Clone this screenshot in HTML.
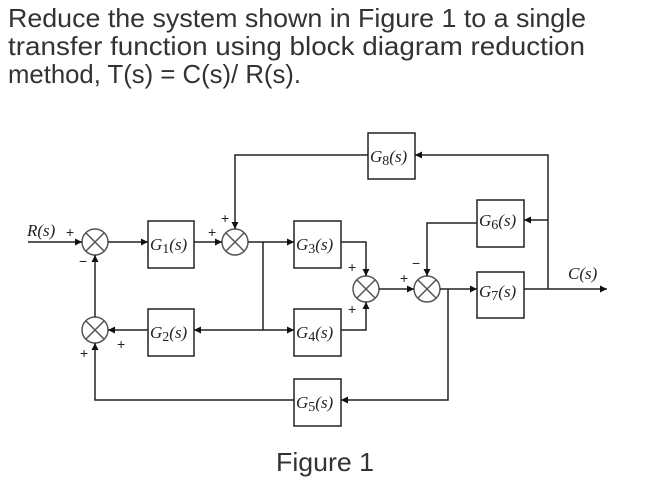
<!DOCTYPE html>
<html><head><meta charset="utf-8"><style>
html,body{margin:0;padding:0;background:#fff;width:663px;height:485px;overflow:hidden}
</style></head><body>
<svg width="663" height="485" viewBox="0 0 663 485" xmlns="http://www.w3.org/2000/svg">
<defs>
<marker id="a" viewBox="0 0 10 10" refX="10" refY="5" markerWidth="10" markerHeight="7" orient="auto" markerUnits="userSpaceOnUse"><path d="M0,0 L10,5 L0,10 z" fill="#111"/></marker>
</defs>
<g font-family="'Liberation Sans',sans-serif" font-size="26" fill="#333">
<text x="8" y="27" textLength="578" lengthAdjust="spacingAndGlyphs">Reduce the system shown in Figure 1 to a single</text>
<text x="8" y="55" textLength="577" lengthAdjust="spacingAndGlyphs">transfer function using block diagram reduction</text>
<text x="8" y="83" textLength="293" lengthAdjust="spacingAndGlyphs">method, T(s) = C(s)/ R(s).</text>
<text x="276" y="471" textLength="98" lengthAdjust="spacingAndGlyphs">Figure 1</text>
</g>
<g stroke="#222" stroke-width="1.5" fill="none">
<rect x="148" y="221" width="46" height="47"/>
<rect x="148" y="309" width="46" height="47"/>
<rect x="294" y="221" width="47" height="47"/>
<rect x="294" y="309" width="47" height="47"/>
<rect x="294" y="379" width="47" height="47"/>
<rect x="368" y="133" width="47" height="46"/>
<rect x="477" y="200" width="47" height="47"/>
<rect x="477" y="272" width="47" height="46"/>
<g stroke="#555">
<circle cx="95" cy="242" r="13"/><path d="M86,233 L104,251 M104,233 L86,251"/>
<circle cx="235" cy="242" r="13"/><path d="M226,233 L244,251 M244,233 L226,251"/>
<circle cx="95" cy="330" r="13"/><path d="M86,321 L104,339 M104,321 L86,339"/>
<circle cx="366" cy="289" r="13"/><path d="M357,280 L375,298 M375,280 L357,298"/>
<circle cx="427" cy="289" r="13"/><path d="M418,280 L436,298 M436,280 L418,298"/>
</g>
<path d="M28,242 H82" marker-end="url(#a)"/>
<path d="M108,242 H148" marker-end="url(#a)"/>
<path d="M194,242 H222" marker-end="url(#a)"/>
<path d="M248,242 H294" marker-end="url(#a)"/>
<path d="M263,242 V330 H294" marker-end="url(#a)"/>
<path d="M263,330 H194" marker-end="url(#a)"/>
<path d="M148,330 H108" marker-end="url(#a)"/>
<path d="M95,317 V255" marker-end="url(#a)"/>
<path d="M294,400 H95 V343" marker-end="url(#a)"/>
<path d="M368,155 H235 V229" marker-end="url(#a)"/>
<path d="M341,242 H366 V276" marker-end="url(#a)"/>
<path d="M341,330 H366 V302" marker-end="url(#a)"/>
<path d="M379,289 H414" marker-end="url(#a)"/>
<path d="M440,289 H477" marker-end="url(#a)"/>
<path d="M448,289 V400 H341" marker-end="url(#a)"/>
<path d="M477,223 H427 V276" marker-end="url(#a)"/>
<path d="M524,289 H607" marker-end="url(#a)"/>
<path d="M548,289 V155 H415" marker-end="url(#a)"/>
<path d="M548,220 H524" marker-end="url(#a)"/>
</g>
<g font-family="'Liberation Serif',serif" font-size="17" fill="#222" font-style="italic">
<text x="150" y="250">G<tspan font-style="normal" font-size="14" dy="3">1</tspan><tspan dy="-3">(s)</tspan></text>
<text x="150" y="338">G<tspan font-style="normal" font-size="14" dy="3">2</tspan><tspan dy="-3">(s)</tspan></text>
<text x="296" y="250">G<tspan font-style="normal" font-size="14" dy="3">3</tspan><tspan dy="-3">(s)</tspan></text>
<text x="296" y="338">G<tspan font-style="normal" font-size="14" dy="3">4</tspan><tspan dy="-3">(s)</tspan></text>
<text x="296" y="408">G<tspan font-style="normal" font-size="14" dy="3">5</tspan><tspan dy="-3">(s)</tspan></text>
<text x="370" y="162">G<tspan font-style="normal" font-size="14" dy="3">8</tspan><tspan dy="-3">(s)</tspan></text>
<text x="479" y="226">G<tspan font-style="normal" font-size="14" dy="3">6</tspan><tspan dy="-3">(s)</tspan></text>
<text x="479" y="297">G<tspan font-style="normal" font-size="14" dy="3">7</tspan><tspan dy="-3">(s)</tspan></text>
<text x="27" y="236">R(s)</text>
<text x="568" y="279">C(s)</text>
</g>
<g font-family="'Liberation Sans',sans-serif" font-size="14" fill="#222">
<text x="66" y="237">+</text><text x="79" y="266">−</text>
<text x="208" y="237">+</text><text x="221" y="223">+</text>
<text x="117" y="349">+</text><text x="80" y="358">+</text>
<text x="348" y="272">+</text><text x="348" y="314">+</text>
<text x="400" y="283">+</text><text x="412" y="268">−</text>
</g>
</svg>
</body></html>
